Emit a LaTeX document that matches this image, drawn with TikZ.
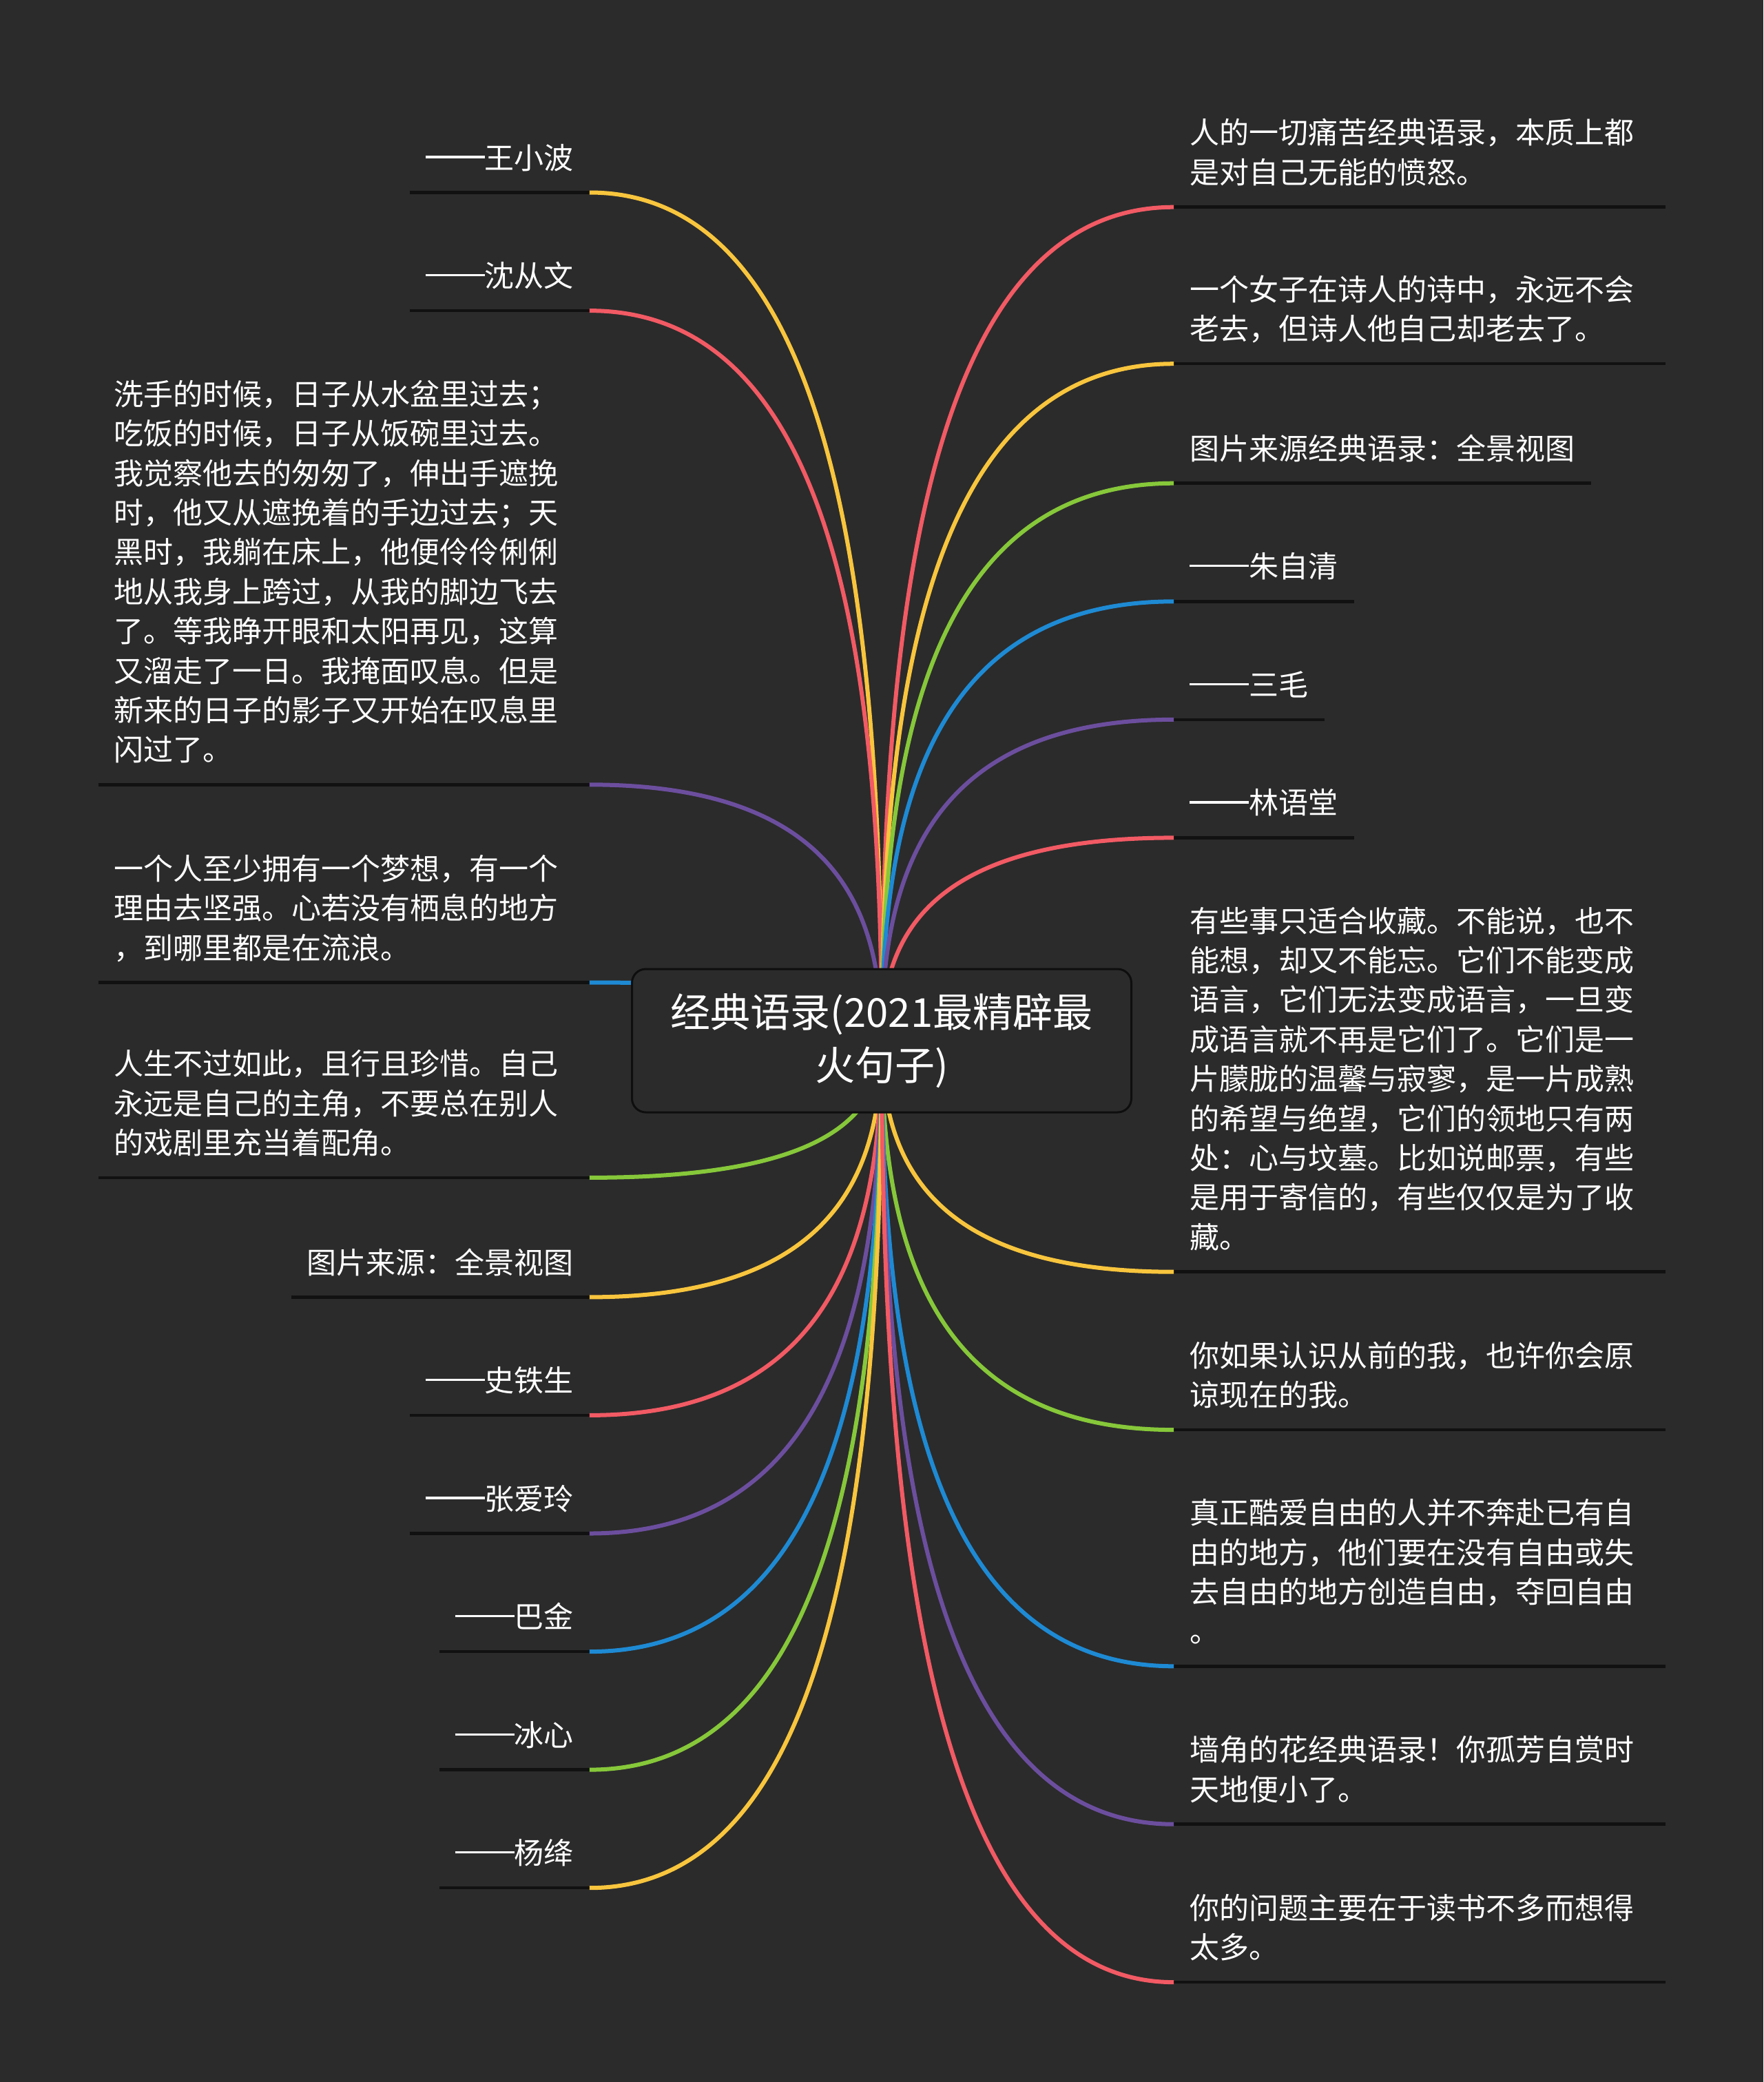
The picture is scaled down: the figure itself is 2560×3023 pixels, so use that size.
\documentclass[tikz,border=0pt]{standalone}
\usepackage{fontspec}
\setmainfont{Noto Sans CJK SC}
\usetikzlibrary{calc}
\definecolor{bg}{HTML}{2B2B2B}
\definecolor{ulc}{HTML}{111111}
\definecolor{boxline}{HTML}{0E0E0E}
\definecolor{cred}{HTML}{F25A64}
\definecolor{cyel}{HTML}{F8C53D}
\definecolor{cgrn}{HTML}{86C83A}
\definecolor{cblu}{HTML}{1E8AD4}
\definecolor{cpur}{HTML}{6C4E9E}
\newcommand\dd{\rule[0.36em]{2em}{0.075em}}
\newcommand\linkL[2]{\draw[curve,#2] (#1.south east) .. controls ($(#1.south east)!0.85!(#1.south east -| c)$) and ($(c)!0.5!(c |- #1.south east)$) .. (c);}
\newcommand\linkR[2]{\draw[curve,#2] (#1.south west) .. controls ($(#1.south west)!0.85!(#1.south west -| c)$) and ($(c)!0.5!(c |- #1.south west)$) .. (c);}
\newcommand\ulineof[1]{\draw[ulst] (#1.south west) -- (#1.south east);}
\tikzset{
  leaf/.style={text=white, inner xsep=23pt, inner ysep=17pt, align=left,
    font=\fontsize{43}{57.4}\selectfont},
  leafL/.style={leaf, anchor=south east},
  leafR/.style={leaf, anchor=south west},
  para/.style={text width=667pt},
  ulst/.style={draw=ulc, line width=4.5pt},
  curve/.style={line width=6pt},
  rootbox/.style={draw=boxline, line width=3pt, fill=bg, rounded corners=20pt,
    minimum width=725pt, minimum height=208pt, text=white, align=center,
    font=\fontsize{58}{77}\selectfont}
}
\begin{document}
\begin{tikzpicture}[x=1pt,y=-1pt]
\fill[bg] (0,0) rectangle (2560,3023);
\useasboundingbox (0,0) rectangle (2560,3023);
\coordinate (c) at (1280,1511);

% left nodes
\node[leafL] (l1) at (855.9,279.5) {\dd 王小波\strut};
\node[leafL] (l2) at (855.9,451.1) {\dd 沈从文\strut};
\node[leafL,para] (l3) at (855.9,1139.3) {洗手的时候，日子从水盆里过去；\\吃饭的时候，日子从饭碗里过去。\\我觉察他去的匆匆了，伸出手遮挽\\时，他又从遮挽着的手边过去；天\\黑时，我躺在床上，他便伶伶俐俐\\地从我身上跨过，从我的脚边飞去\\了。等我睁开眼和太阳再见，这算\\又溜走了一日。我掩面叹息。但是\\新来的日子的影子又开始在叹息里\\闪过了。\strut};
\node[leafL,para] (l4) at (855.9,1426.5) {一个人至少拥有一个梦想，有一个\\理由去坚强。心若没有栖息的地方\\，到哪里都是在流浪。\strut};
\node[leafL,para] (l5) at (855.9,1709.9) {人生不过如此，且行且珍惜。自己\\永远是自己的主角，不要总在别人\\的戏剧里充当着配角。\strut};
\node[leafL] (l6) at (855.9,1883.4) {图片来源：全景视图\strut};
\node[leafL] (l7) at (855.9,2054.9) {\dd 史铁生\strut};
\node[leafL] (l8) at (855.9,2226.5) {\dd 张爱玲\strut};
\node[leafL] (l9) at (855.9,2398.1) {\dd 巴金\strut};
\node[leafL] (l10) at (855.9,2569.6) {\dd 冰心\strut};
\node[leafL] (l11) at (855.9,2741.2) {\dd 杨绛\strut};

% right nodes
\node[leafR,para] (r1) at (1704.1,300.7) {人的一切痛苦经典语录，本质上都\\是对自己无能的愤怒。\strut};
\node[leafR,para] (r2) at (1704.1,528.2) {一个女子在诗人的诗中，永远不会\\老去，但诗人他自己却老去了。\strut};
\node[leafR] (r3) at (1704.1,701.7) {图片来源经典语录：全景视图\strut};
\node[leafR] (r4) at (1704.1,873.3) {\dd 朱自清\strut};
\node[leafR] (r5) at (1704.1,1044.8) {\dd 三毛\strut};
\node[leafR] (r6) at (1704.1,1216.4) {\dd 林语堂\strut};
\node[leafR,para] (r7) at (1704.1,1846.7) {有些事只适合收藏。不能说，也不\\能想，却又不能忘。它们不能变成\\语言，它们无法变成语言，一旦变\\成语言就不再是它们了。它们是一\\片朦胧的温馨与寂寥，是一片成熟\\的希望与绝望，它们的领地只有两\\处：心与坟墓。比如说邮票，有些\\是用于寄信的，有些仅仅是为了收\\藏。\strut};
\node[leafR,para] (r8) at (1704.1,2076.1) {你如果认识从前的我，也许你会原\\谅现在的我。\strut};
\node[leafR,para] (r9) at (1704.1,2419.3) {真正酷爱自由的人并不奔赴已有自\\由的地方，他们要在没有自由或失\\去自由的地方创造自由，夺回自由\\。\strut};
\node[leafR,para] (r10) at (1704.1,2648.7) {墙角的花经典语录！你孤芳自赏时\\天地便小了。\strut};
\node[leafR,para] (r11) at (1704.1,2878.1) {你的问题主要在于读书不多而想得\\太多。\strut};

% underlines
\foreach \n in {l1,l2,l3,l4,l5,l6,l7,l8,l9,l10,l11,r1,r2,r3,r4,r5,r6,r7,r8,r9,r10,r11} {\ulineof{\n}}

% connectors
\linkL{l1}{cyel}
\linkL{l2}{cred}
\linkL{l3}{cpur}
\linkL{l4}{cblu}
\linkL{l5}{cgrn}
\linkL{l6}{cyel}
\linkL{l7}{cred}
\linkL{l8}{cpur}
\linkL{l9}{cblu}
\linkL{l10}{cgrn}
\linkL{l11}{cyel}
\linkR{r1}{cred}
\linkR{r2}{cyel}
\linkR{r3}{cgrn}
\linkR{r4}{cblu}
\linkR{r5}{cpur}
\linkR{r6}{cred}
\linkR{r7}{cyel}
\linkR{r8}{cgrn}
\linkR{r9}{cblu}
\linkR{r10}{cpur}
\linkR{r11}{cred}

% central node
\node[rootbox] (root) at (c) {经典语录(2021最精辟最\\火句子)};
\end{tikzpicture}
\end{document}
